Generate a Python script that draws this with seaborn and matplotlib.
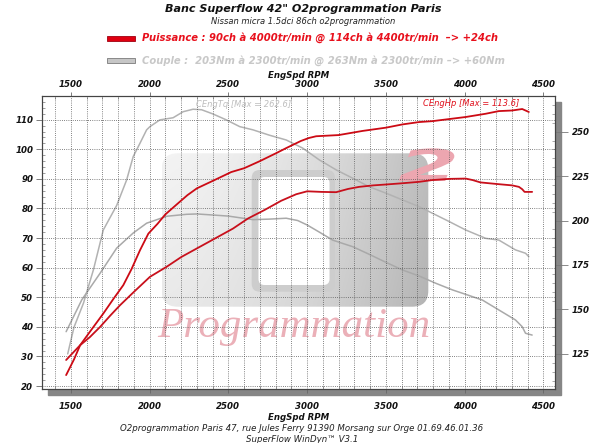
import numpy as np
import pandas as pd
import matplotlib
matplotlib.use("Agg")
import matplotlib.pyplot as plt
import seaborn as sns
from matplotlib.patches import Rectangle, FancyBboxPatch, PathPatch
from matplotlib.ticker import MultipleLocator
from matplotlib.textpath import TextPath
from matplotlib.font_manager import FontProperties
from matplotlib.transforms import Affine2D

# ---------------- data ----------------
rpm_hp_after = [1470, 1520, 1559, 1630, 1706, 1771, 1833, 1885, 1939, 1992, 2050, 2100, 2175,
                2240, 2300, 2408, 2518, 2600, 2700, 2800, 2867, 2960, 3010, 3057, 3200,
                3352, 3500, 3605, 3711, 3795, 3900, 4006, 4133, 4217, 4301, 4365, 4407]
hp_after = [23.7, 29.0, 33.8, 39.0, 44.5, 49.5, 54.1, 59.5, 65.9, 71.5, 74.8, 78.0, 81.5,
            84.5, 86.8, 89.5, 92.3, 93.6, 96.0, 98.6, 100.4, 102.8, 103.8, 104.4, 104.8,
            106.2, 107.3, 108.4, 109.2, 109.5, 110.2, 110.9, 112.0, 112.9, 113.1, 113.6, 112.6]

rpm_hp_before = [1470, 1559, 1620, 1686, 1750, 1812, 1900, 2002, 2108, 2201, 2300, 2413,
                 2529, 2624, 2730, 2835, 2930, 3000, 3090, 3184, 3260, 3330, 3420, 3500,
                 3600, 3711, 3795, 3902, 4006, 4050, 4100, 4217, 4301, 4344, 4365, 4380, 4428]
hp_before = [28.8, 33.8, 36.5, 40.0, 43.8, 47.3, 51.8, 56.9, 60.3, 63.6, 66.5, 69.8,
             73.2, 76.6, 79.5, 82.6, 84.8, 85.8, 85.6, 85.5, 86.6, 87.3, 87.8, 88.1,
             88.5, 89.0, 89.6, 90.0, 90.1, 89.6, 88.8, 88.2, 87.8, 87.3, 86.5, 85.6, 85.6]

rpm_tq_after = [1480, 1520, 1580, 1643, 1706, 1791, 1854, 1896, 1939, 1981, 2002, 2065, 2149,
                2213, 2276, 2330, 2400, 2487, 2572, 2656, 2760, 2867, 2972, 3077, 3184,
                3289, 3394, 3500, 3605, 3711, 3795, 3900, 4006, 4133, 4217, 4322, 4386, 4407]
tq_after = [125.0, 140.0, 153.5, 172.2, 194.7, 208.5, 222.8, 236.0, 243.5, 251.0, 252.8, 256.6, 257.8,
            261.2, 262.6, 262.3, 260.0, 256.6, 252.8, 251.0, 248.0, 245.3, 240.7, 234.1, 228.5,
            223.8, 219.0, 215.4, 211.6, 207.8, 204.1, 199.5, 194.7, 190.0, 189.0, 183.5, 181.6, 179.7]

rpm_tq_before = [1470, 1570, 1686, 1791, 1896, 1981, 2108, 2234, 2300, 2403, 2500, 2656,
                 2760, 2867, 2940, 3000, 3077, 3162, 3230, 3289, 3394, 3500, 3605, 3711,
                 3817, 3922, 4006, 4112, 4217, 4322, 4365, 4386, 4428]
tq_before = [137.5, 155.5, 170.4, 184.5, 193.0, 198.5, 202.4, 203.5, 203.7, 203.1, 202.5, 200.5,
             200.8, 201.3, 200.0, 197.5, 193.5, 189.0, 187.0, 185.3, 181.0, 176.5, 172.2, 168.8,
             164.7, 161.0, 158.5, 155.3, 149.7, 144.1, 140.3, 136.6, 135.6]

x_ticks = [1500, 2000, 2500, 3000, 3500, 4000, 4500]
hp_ticks = [20, 30, 40, 50, 60, 70, 80, 90, 100, 110]
tq_ticks = [125, 150, 175, 200, 225, 250]

title = 'Banc Superflow 42" O2programmation Paris'
subtitle = "Nissan micra 1.5dci 86ch o2programmation"
legend_hp = "Puissance : 90ch à 4000tr/min @ 114ch à 4400tr/min  –> +24ch"
legend_tq = "Couple :  203Nm à 2300tr/min @ 263Nm à 2300tr/min –> +60Nm"
label_tq = "CEngTq [Max = 262.6]"
label_hp = "CEngHp [Max = 113.6]"
xlabel = "EngSpd RPM"
footer1 = "O2programmation Paris 47, rue Jules Ferry 91390 Morsang sur Orge 01.69.46.01.36"
footer2 = "SuperFlow WinDyn™ V3.1"

# ---------------- style ----------------
sns.set_style("white")
plt.rcParams['font.family'] = ['DejaVu Sans']

W, H = 600, 443
fig = plt.figure(figsize=(W / 100, H / 100), dpi=100)
fig.patch.set_facecolor("white")

# background layer in pixel coordinates
bg = fig.add_axes([0, 0, 1, 1], zorder=0)
bg.axis("off")

L, R, T, B = 41.7, 555.3, 95.7, 389.3
bg.add_patch(Rectangle((L + 6, T + 6), R - L, B - T, color="#868686", zorder=1))
bg.add_patch(Rectangle((L, T), R - L, B - T, facecolor="white", edgecolor="none", zorder=2))

# watermark logo
lx0, ly0, lx1, ly1 = 161.7, 153.3, 428.3, 306.7
outer = FancyBboxPatch((lx0, ly0), lx1 - lx0, ly1 - ly0,
                       boxstyle="round,pad=0,rounding_size=16",
                       facecolor="none", edgecolor="none", zorder=3)
bg.add_patch(outer)
gx = np.linspace(0, 1, 200)
gy = np.linspace(0, 1, 100)
GX, GY = np.meshgrid(gx, gy)
grad = 0.955 - 0.21 * GX ** 1.6 - 0.04 * GY
grad = np.clip(grad, 0, 1)
rgb = np.dstack([grad, grad, grad])
im = bg.imshow(rgb, extent=(lx0, lx1, ly1, ly0), aspect="auto", zorder=3, interpolation="bilinear")
im.set_clip_path(outer)
bg.add_patch(FancyBboxPatch((251.7, 170), 83.3, 121.7, boxstyle="round,pad=0,rounding_size=8",
                            facecolor="#cdcdcd", edgecolor="none", zorder=4))
bg.add_patch(FancyBboxPatch((258.5, 177), 71, 108, boxstyle="round,pad=0,rounding_size=6",
                            facecolor="white", edgecolor="none", zorder=5))
# wide pink "2"
tp = TextPath((0, 0), "2", size=44, prop=FontProperties(family="DejaVu Sans", weight="bold", style="italic"))
tr = Affine2D().scale(2.0, -1.0).translate(398, 181)
bg.add_patch(PathPatch(tr.transform_path(tp), facecolor="#eca6b0", edgecolor="none", zorder=6))
bg.text(294, 327, "Programmation", family="Liberation Serif", style="italic", fontsize=31,
        color="#ebb0b8", ha="center", va="center", zorder=6)

# header legend bars
bg.add_patch(Rectangle((107, 35.5), 28, 5, facecolor="#e00010", edgecolor="#a00010", lw=0.6, zorder=3))
bg.add_patch(Rectangle((107, 58), 28, 5, facecolor="#c6c6c6", edgecolor="#7a7a7a", lw=0.6, zorder=3))
bg.set_xlim(0, W)
bg.set_ylim(H, 0)

def fx(px):
    return px / W

def fy(py):
    return 1 - py / H

fig.text(fx(303.5), fy(8.5), title, ha="center", va="center", fontsize=8.0,
         fontweight="bold", style="italic", color="#111111")
fig.text(fx(303.5), fy(21), subtitle, ha="center", va="center", fontsize=6.0,
         style="italic", color="#222222")
fig.text(fx(141.5), fy(38), legend_hp, ha="left", va="center", fontsize=7.2,
         fontweight="bold", style="italic", color="#e8101c")
fig.text(fx(141.5), fy(60.5), legend_tq, ha="left", va="center", fontsize=7.2,
         fontweight="bold", style="italic", color="#c8c8c8")
fig.text(fx(298.5), fy(75.5), xlabel, ha="center", va="center", fontsize=6.2,
         fontweight="bold", style="italic", color="#111111")
fig.text(fx(298.5), fy(417), xlabel, ha="center", va="center", fontsize=6.2,
         fontweight="bold", style="italic", color="#111111")
fig.text(fx(302), fy(428.5), footer1, ha="center", va="center", fontsize=6.2,
         style="italic", color="#222222")
fig.text(fx(302), fy(439), footer2, ha="center", va="center", fontsize=6.2,
         style="italic", color="#222222")

# ---------------- main axes ----------------
ax = fig.add_axes([fx(L), fy(B), (R - L) / W, (B - T) / H])
ax2 = ax.twinx()
ax.set_zorder(3)
ax2.set_zorder(2)
ax.patch.set_visible(False)
ax2.patch.set_visible(False)

df_hp_a = pd.DataFrame({"rpm": rpm_hp_after, "hp": hp_after})
df_hp_b = pd.DataFrame({"rpm": rpm_hp_before, "hp": hp_before})
df_tq_a = pd.DataFrame({"rpm": rpm_tq_after, "tq": tq_after})
df_tq_b = pd.DataFrame({"rpm": rpm_tq_before, "tq": tq_before})

sns.lineplot(data=df_tq_a, x="rpm", y="tq", ax=ax2, color="#b2b2b2", lw=1.1, sort=False)
sns.lineplot(data=df_tq_b, x="rpm", y="tq", ax=ax2, color="#a9a9a9", lw=1.1, sort=False)
sns.lineplot(data=df_hp_a, x="rpm", y="hp", ax=ax, color="#cc0a14", lw=1.3, sort=False)
sns.lineplot(data=df_hp_b, x="rpm", y="hp", ax=ax, color="#c8101c", lw=1.3, sort=False)

ax.set_xlim(1315, 4575)
ax.set_ylim(18.9, 118.1)
ax2.set_ylim(105.1, 270.2)

ax.set_xticks(x_ticks)
ax.set_xticklabels([str(v) for v in x_ticks])
ax.xaxis.set_minor_locator(MultipleLocator(100))
ax.set_yticks(hp_ticks)
ax.set_yticklabels([str(v) for v in hp_ticks])
ax.yaxis.set_minor_locator(MultipleLocator(2))
ax2.set_yticks(tq_ticks)
ax2.set_yticklabels([str(v) for v in tq_ticks])
ax2.yaxis.set_minor_locator(MultipleLocator(5))

ax.set_xlabel("")
ax.set_ylabel("")
ax2.set_ylabel("")

grid_kw = dict(color="#5a5a5a", linestyle=(0, (1, 1.6)), linewidth=0.6)
ax.grid(True, which="both", axis="x", **grid_kw)
ax.grid(True, which="major", axis="y", **grid_kw)
ax2.grid(False)

tick_font = dict(labelsize=6.2, labelcolor="#111111")
ax.tick_params(axis="x", which="major", direction="out", length=3, width=0.6, color="#666666",
               top=True, bottom=True, labeltop=False, labelbottom=True, pad=6.5, **tick_font)
ax.tick_params(axis="x", which="minor", direction="in", length=2, width=0.5, color="#777777",
               top=True, bottom=True)
ax.tick_params(axis="y", which="major", direction="out", length=4, width=0.6, color="#666666",
               left=True, right=False, pad=2, **tick_font)
ax.tick_params(axis="y", which="minor", direction="in", length=2.5, width=0.5, color="#777777",
               left=True, right=False)
ax2.tick_params(axis="y", which="major", direction="out", length=9, width=0.6, color="#777777",
                right=True, pad=3, **tick_font)
ax2.tick_params(axis="y", which="minor", direction="in", length=2.5, width=0.5, color="#888888",
                right=True)

secax = ax.secondary_xaxis("top")
secax.set_xticks(x_ticks)
secax.set_xticklabels([str(v) for v in x_ticks])
secax.tick_params(axis="x", length=0, pad=5, **tick_font)
secax.spines["top"].set_visible(False)

for a in (ax, ax2, secax):
    for lab in a.get_xticklabels() + a.get_yticklabels():
        lab.set_fontweight("bold")
        lab.set_fontstyle("italic")

for a in (ax, ax2):
    for s in a.spines.values():
        s.set_color("#444444")
        s.set_linewidth(0.8)

ax.text(fx(196), fy(104.5), label_tq, transform=fig.transFigure, ha="left", va="center",
        fontsize=6.0, style="italic", color="#bdbdbd")
ax.text(fx(423), fy(103), label_hp, transform=fig.transFigure, ha="left", va="center",
        fontsize=6.0, style="italic", color="#e0101c")

fig.savefig("out.png", dpi=100, facecolor="white")
